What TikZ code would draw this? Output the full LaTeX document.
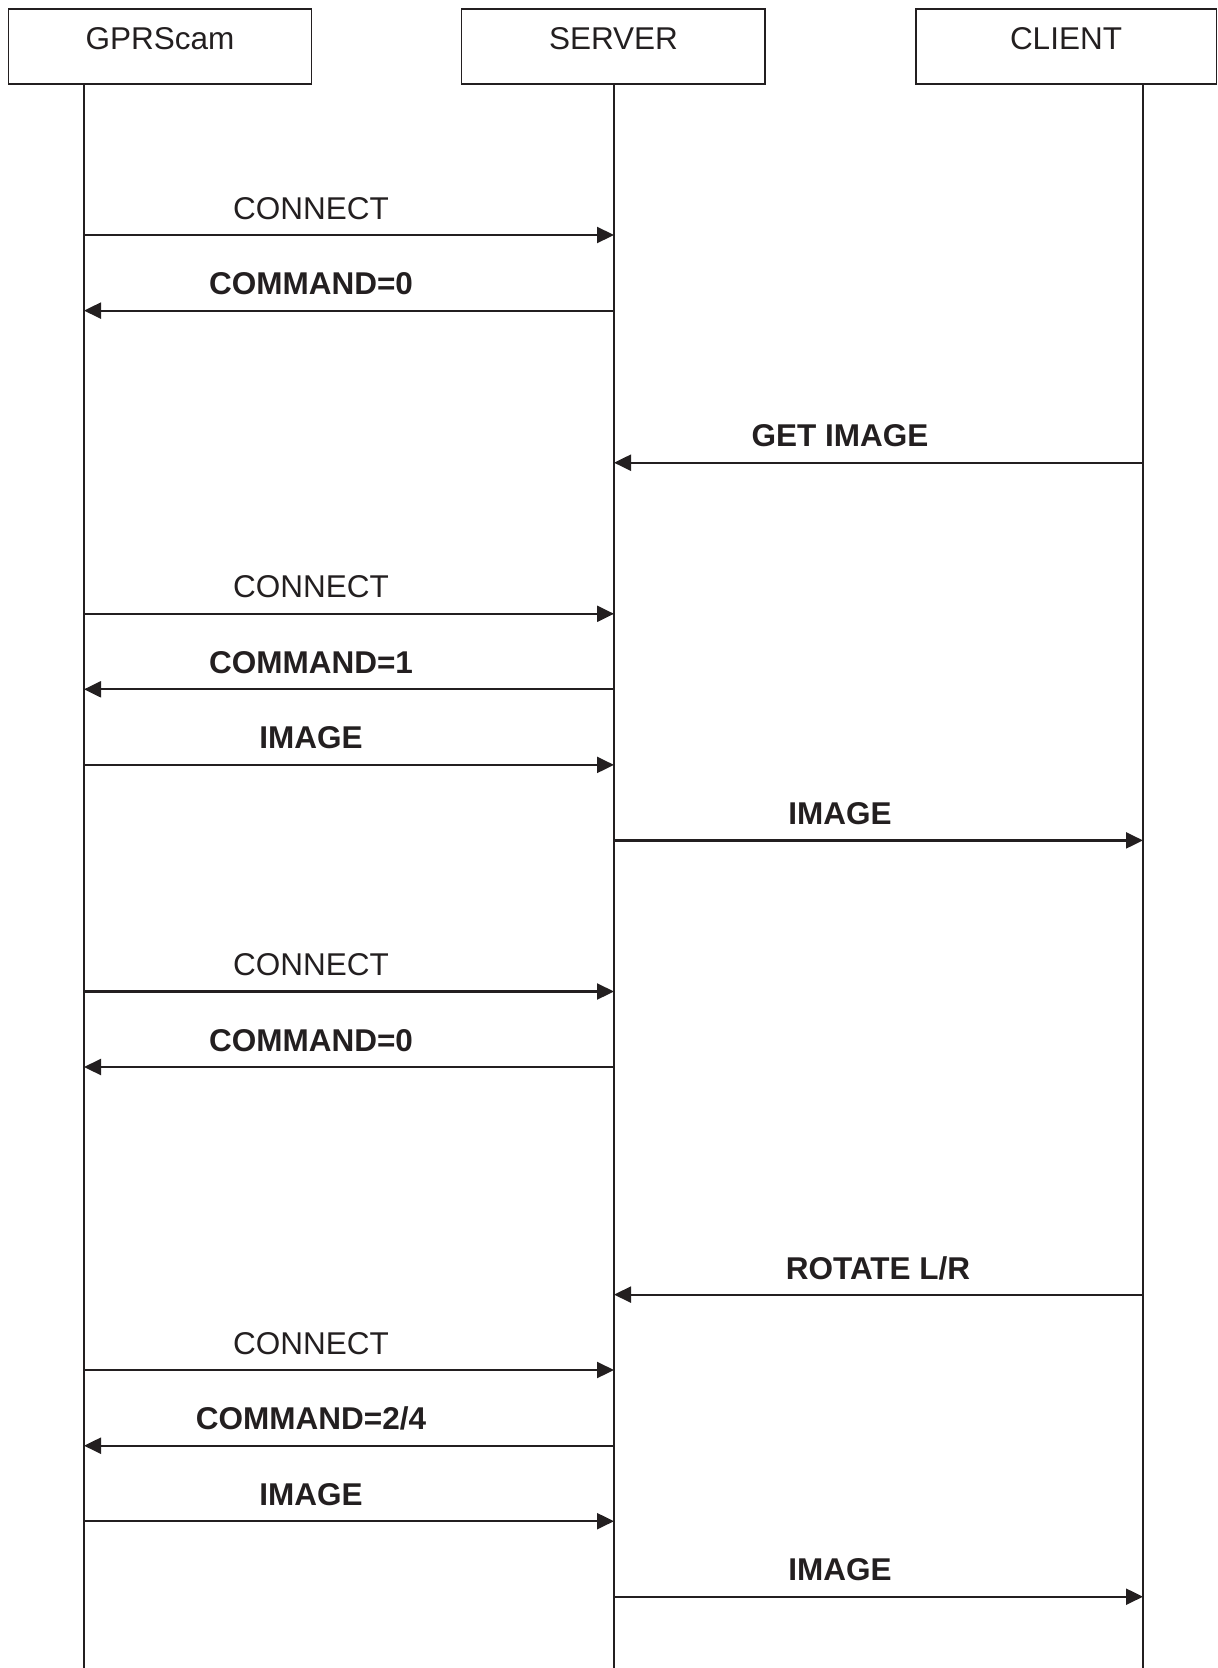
\documentclass[tikz,border=0pt]{standalone}
\usepackage{fontspec}
\setmainfont{Liberation Sans}
\usetikzlibrary{arrows.meta}
\definecolor{ink}{HTML}{231F20}
\begin{document}
\begin{tikzpicture}[x=1pt,y=-1pt,
  every node/.style={text=ink},
  actor/.style={draw=ink,line width=1.8pt,inner sep=0pt},
  title/.style={font=\fontsize{31.5}{36}\selectfont,anchor=base},
  life/.style={draw=ink,line width=1.8pt},
  msg/.style={draw=ink,line width=2.2pt,-{Triangle[length=17pt,width=16pt]}},
  lbl/.style={font=\fontsize{31.5}{36}\selectfont,anchor=base},
  blbl/.style={font=\fontsize{31.5}{36}\selectfont\bfseries,anchor=base}]
\useasboundingbox (0,0) rectangle (1218,1668);
% actor boxes
\draw[actor] (8.5,9) rectangle (311.5,84);
\draw[actor] (461.5,9) rectangle (765,84);
\draw[actor] (916,9) rectangle (1216.5,84);
\node[title] (tg) at (160,49.5) {GPRScam};
\node[title] (ts) at (613.5,49.5) {SERVER};
\node[title] (tc) at (1066,49.5) {CLIENT};
% lifelines
\coordinate (gT) at (84,84);  \coordinate (gB) at (84,1668);
\coordinate (sT) at (614,84); \coordinate (sB) at (614,1668);
\coordinate (cT) at (1143,84); \coordinate (cB) at (1143,1668);
\draw[life] (gT) -- (gB);
\draw[life] (sT) -- (sB);
\draw[life] (cT) -- (cB);
% message endpoints
\foreach \n/\y in {1/235,2/310.6,3/462.7,4/613.8,5/689.3,6/764.9,7/840.4,8/991.5,9/1067,10/1294.6,11/1370,12/1445.7,13/1521.2,14/1596.7}{
  \coordinate (g\n) at (84,\y);
  \coordinate (s\n) at (614,\y);
  \coordinate (c\n) at (1143,\y);
}
\draw[msg] (g1) -- (s1);
\node[lbl] (m1) at (311,219) {CONNECT};
\draw[msg] (s2) -- (g2);
\node[blbl] (m2) at (311,294.6) {COMMAND=0};
\draw[msg] (c3) -- (s3);
\node[blbl] (m3) at (840,446.7) {GET IMAGE};
\draw[msg] (g4) -- (s4);
\node[lbl] (m4) at (311,597.8) {CONNECT};
\draw[msg] (s5) -- (g5);
\node[blbl] (m5) at (311,673.3) {COMMAND=1};
\draw[msg] (g6) -- (s6);
\node[blbl] (m6) at (311,748.9) {IMAGE};
\draw[msg] (s7) -- (c7);
\node[blbl] (m7) at (840,824.4) {IMAGE};
\draw[msg] (g8) -- (s8);
\node[lbl] (m8) at (311,975.5) {CONNECT};
\draw[msg] (s9) -- (g9);
\node[blbl] (m9) at (311,1051) {COMMAND=0};
\draw[msg] (c10) -- (s10);
\node[blbl] (m10) at (878,1279.6) {ROTATE L/R};
\draw[msg] (g11) -- (s11);
\node[lbl] (m11) at (311,1354) {CONNECT};
\draw[msg] (s12) -- (g12);
\node[blbl] (m12) at (311,1429.7) {COMMAND=2/4};
\draw[msg] (g13) -- (s13);
\node[blbl] (m13) at (311,1505.2) {IMAGE};
\draw[msg] (s14) -- (c14);
\node[blbl] (m14) at (840,1580.7) {IMAGE};
\end{tikzpicture}
\end{document}
